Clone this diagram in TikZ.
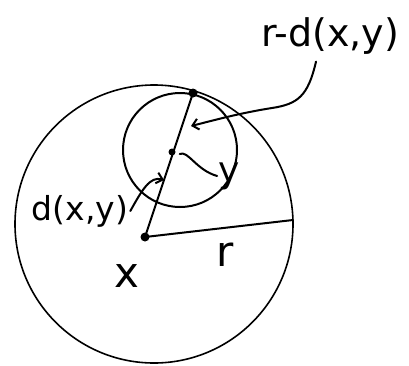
\documentclass[tikz,border=0pt]{standalone}
\usepackage{fontspec}
\setmainfont{DejaVu Sans}
\usetikzlibrary{arrows.meta}
\tikzset{
  pen/.style={line width=2pt, line cap=round},
  thinpen/.style={line width=1.6pt},
  ptdot/.style={circle, fill, inner sep=0pt, minimum size=#1},
  hand/.style={font=\fontsize{33}{35}\selectfont, inner sep=1pt},
  bighand/.style={font=\fontsize{42}{44}\selectfont, inner sep=1pt},
  barb/.style={-{Straight Barb[length=6pt, width=11pt, line width=2pt]}}
}

\begin{document}
\begin{tikzpicture}[x=1pt, y=-1pt]
  \useasboundingbox (0,0) rectangle (409,365);

  % --- Points ---
  \coordinate (bigc) at (154,224);
  \coordinate (smallc) at (180,150);
  \node[ptdot=9pt] (top) at (193,93) {};
  \node[ptdot=7pt] (y) at (172,152) {};
  \node[ptdot=9pt] (x) at (145,237) {};
  \coordinate (redge) at (293,220);

  % --- Circles ---
  \draw[thinpen] (bigc) circle (139pt);
  \draw[pen] (smallc) circle (57pt);

  % --- Segments ---
  \draw[pen] (x.center) -- (top.center);
  \draw[pen] (x.center) -- (redge);

  % --- Labels ---
  \node[hand, font=\fontsize{38}{40}\selectfont] (lrd) at (330,36) {r-d(x,y)};
  \node[hand] (ld) at (80,211) {d(x,y)};
  \node[hand, font=\fontsize{36}{38}\selectfont] (ly) at (229,176) {y};
  \node[bighand] (lx) at (127,276) {x};
  \node[bighand] (lr) at (225,255) {r};

  % --- Pointers ---
  \coordinate (rdtip) at (191,126);
  \coordinate (dtip) at (164,180);
  \draw[pen, barb] (lrd.south) ++(-14,6) .. controls (308,96) and (298,104) .. (272,108)
    .. controls (240,113) and (215,120) .. (rdtip);
  \draw[pen, barb] (ld.east) ++(1,0) .. controls (142,190) and (150,176) .. (dtip);
  \draw[pen] (y.east) ++(4,2) .. controls (188,150) and (196,170) .. (ly.west);
\end{tikzpicture}
\end{document}
